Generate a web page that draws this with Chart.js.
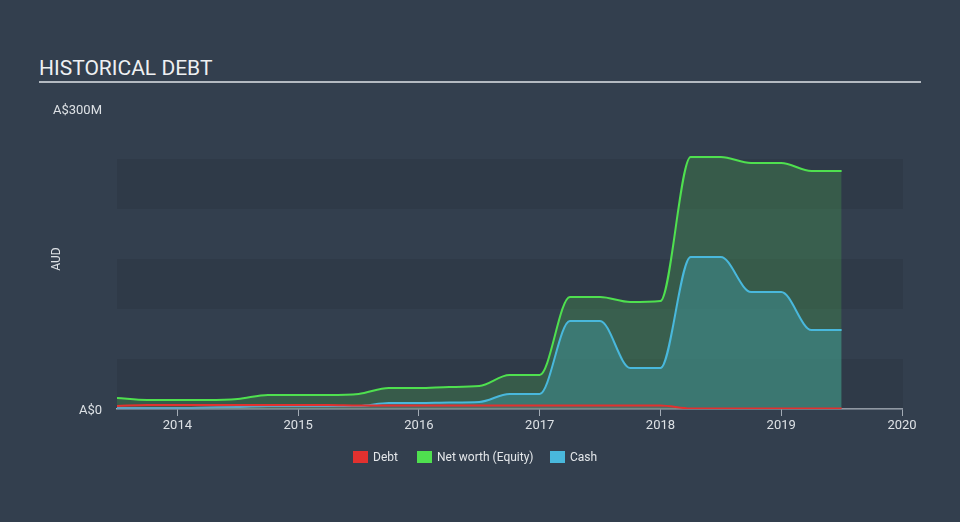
<!DOCTYPE html>
<html>
<head>
<meta charset="utf-8">
<script src="https://cdn.jsdelivr.net/npm/chart.js@4"></script>
<style>
  html, body { margin:0; padding:0; }
  body { width:960px; height:522px; overflow:hidden; background:#333f4e; font-family:Roboto, "Noto Sans", sans-serif; position:relative; }
  #title { position:absolute; left:39px; top:56px; font-size:21px; color:#eef0f2; letter-spacing:0; }
  #rule { position:absolute; left:39px; top:81px; width:882px; height:2px; background:#b4bac1; }
  #wrap { position:absolute; left:0; top:0; width:960px; height:522px; }
  #legend { position:absolute; top:450px; left:0; width:960px; height:14px; font-size:12px; color:#e4e7ea; }
  .item { position:absolute; top:0; display:flex; align-items:center; height:14px; }
  .box { width:15px; height:12px; margin-right:5px; }
</style>
</head>
<body>
<div id="title">HISTORICAL DEBT</div>
<div id="rule"></div>
<div id="wrap"><canvas id="c" width="960" height="522"></canvas></div>
<div id="legend">
  <div class="item" style="left:353px"><div class="box" style="background:#e2312f"></div>Debt</div>
  <div class="item" style="left:417px"><div class="box" style="background:#4fe04f"></div>Net worth (Equity)</div>
  <div class="item" style="left:550px"><div class="box" style="background:#49b8dc"></div>Cash</div>
</div>
<script>
// Decimal years (quarterly)
const periods = [2013.5, 2013.75, 2014.0, 2014.25, 2014.5, 2014.75, 2015.0, 2015.25, 2015.5, 2015.75,
                 2016.0, 2016.25, 2016.5, 2016.75, 2017.0, 2017.25, 2017.5, 2017.75, 2018.0, 2018.25,
                 2018.5, 2018.75, 2019.0, 2019.25, 2019.5];
// Values in A$ millions
const debt     = [3, 4, 4, 4, 4, 4, 4, 4, 3.5, 3.5, 3.5, 3.5, 3.5, 3.5, 3.5, 3.5, 3.5, 3.5, 3.5, 0.5, 0.5, 0.5, 0.5, 0.5, 0.5];
const netWorth = [11, 9, 9, 9, 10, 14, 14, 14, 15, 21, 21, 22, 23, 34, 34, 112, 112, 107, 108, 252, 252, 246, 246, 238, 238];
const cash     = [1, 1, 1, 1.5, 2, 3, 3, 3, 3, 6, 6, 6.5, 7, 15, 15, 88, 88, 41, 41, 152, 152, 117, 117, 79, 79];
const yearTicks = [2014, 2015, 2016, 2017, 2018, 2019, 2020];
const yTicks = [0, 300];
const bandEdges = [0, 50, 100, 150, 200, 250];

const pts = arr => arr.map((v, i) => ({x: periods[i], y: v}));

const stripes = {
  id: 'stripes',
  beforeDatasetsDraw(chart) {
    const {ctx, chartArea, scales} = chart;
    const y = scales.y;
    ctx.save();
    ctx.fillStyle = 'rgba(20,28,40,0.13)';
    for (let i = 0; i < bandEdges.length - 1; i += 2) {
      const top = y.getPixelForValue(bandEdges[i + 1]);
      const bot = y.getPixelForValue(bandEdges[i]);
      ctx.fillRect(chartArea.left, top, chartArea.right - chartArea.left + 1, bot - top);
    }
    ctx.restore();
  }
};

new Chart(document.getElementById('c'), {
  type: 'line',
  data: {
    datasets: [
      { label: 'Debt', data: pts(debt), borderColor: '#e2312f', backgroundColor: 'rgba(226,49,47,0.15)',
        borderWidth: 2, fill: 'origin', order: 0 },
      { label: 'Net worth (Equity)', data: pts(netWorth), borderColor: '#4fe04f', backgroundColor: 'rgba(74,170,78,0.3)',
        borderWidth: 2, fill: 'origin', order: 2 },
      { label: 'Cash', data: pts(cash), borderColor: '#49b8dc', backgroundColor: 'rgba(66,160,170,0.42)',
        borderWidth: 2, fill: 'origin', order: 1 }
    ]
  },
  options: {
    responsive: false,
    animation: false,
    devicePixelRatio: 1,
    layout: { padding: { left: 0, right: 58, top: 109, bottom: 0 } },
    elements: { point: { radius: 0, hoverRadius: 0 }, line: { cubicInterpolationMode: 'monotone' } },
    plugins: { legend: { display: false }, tooltip: { enabled: false } },
    scales: {
      x: {
        type: 'linear', min: 2013.5, max: 2020,
        afterBuildTicks: s => { s.ticks = yearTicks.map(v => ({ value: v })); },
        afterFit: s => { s.height = 113; },
        grid: { display: true, drawOnChartArea: false, drawTicks: true, tickLength: 7, color: '#a3abb5', lineWidth: 1 },
        border: { display: true, color: '#a3abb5', width: 1.5 },
        ticks: { color: '#dde1e5', font: { family: 'Roboto', size: 13 }, padding: 2, maxRotation: 0,
                 callback: v => String(v) }
      },
      y: {
        type: 'linear', min: 0, max: 300,
        afterBuildTicks: s => { s.ticks = yTicks.map(v => ({ value: v })); },
        afterFit: s => { s.width = 117; },
        grid: { display: false, drawTicks: false },
        border: { display: false },
        ticks: { color: '#dde1e5', font: { family: 'Roboto', size: 13 }, padding: 15, labelOffset: 2,
                 callback: v => v === 0 ? 'A$0' : 'A$' + v + 'M' },
        title: { display: true, text: 'AUD', color: '#dde1e5', font: { family: 'Roboto', size: 12 },
                 padding: { top: 50, bottom: 0 } }
      }
    }
  },
  plugins: [stripes]
});
</script>
</body>
</html>
